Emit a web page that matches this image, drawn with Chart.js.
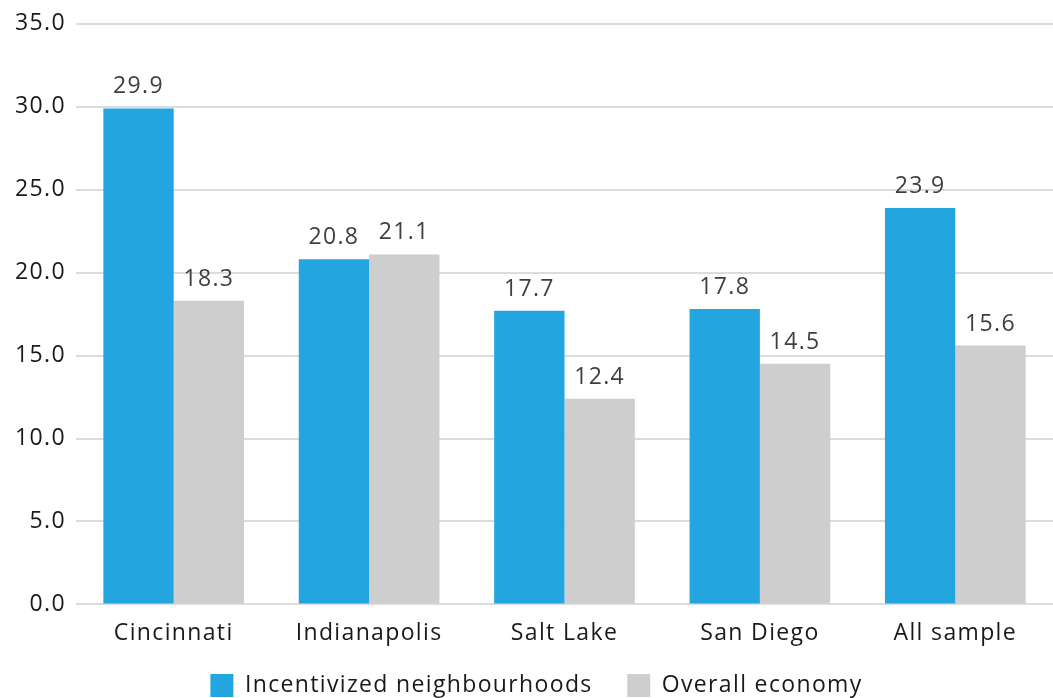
<!DOCTYPE html>
<html>
<head>
<meta charset="utf-8">
<script src="https://cdn.jsdelivr.net/npm/chart.js"></script>
<style>
  html, body { margin: 0; padding: 0; background: #fff; }
  #wrap { width: 1053px; height: 698px; }
</style>
</head>
<body>
<div id="wrap"><canvas id="chart"></canvas></div>
<script>
const categories = ["Cincinnati", "Indianapolis", "Salt Lake", "San Diego", "All sample"];
const incentivized = [29.9, 20.8, 17.7, 17.8, 23.9];
const overall = [18.3, 21.1, 12.4, 14.5, 15.6];
const seriesNames = ["Incentivized neighbourhoods", "Overall economy"];

const FONT = "'Open Sans', sans-serif";
const SIZE = 23;
const SPACING = "1.35px";

// canvas state is reset on resize, so reapply the letter spacing before measuring and drawing
const spacing = {
  id: "spacing",
  beforeUpdate(chart) { chart.ctx.letterSpacing = SPACING; },
  beforeDraw(chart) { chart.ctx.letterSpacing = SPACING; },
  // nudge the legend a bit to the right of centre
  afterLayout(chart) {
    if (chart.legend) { chart.legend.left += 7; chart.legend.right += 7; }
  }
};

// writes each bar's value just above it
const valueLabels = {
  id: "valueLabels",
  afterDatasetsDraw(chart) {
    const ctx = chart.ctx;
    ctx.save();
    ctx.font = SIZE + "px " + FONT;
    ctx.fillStyle = "#3f3f3f";
    ctx.textAlign = "center";
    ctx.textBaseline = "bottom";
    chart.data.datasets.forEach((ds, i) => {
      chart.getDatasetMeta(i).data.forEach((bar, j) => {
        ctx.fillText(ds.data[j].toFixed(1), bar.x, bar.y - 10);
      });
    });
    ctx.restore();
  }
};

const defaultLabels = Chart.defaults.plugins.legend.labels.generateLabels;

new Chart(document.getElementById("chart"), {
  type: "bar",
  data: {
    labels: categories,
    datasets: [
      { label: seriesNames[0], data: incentivized, backgroundColor: "#23a6df" },
      { label: seriesNames[1], data: overall, backgroundColor: "#cecece" }
    ]
  },
  options: {
    responsive: true,
    maintainAspectRatio: false,
    animation: false,
    layout: { padding: { top: 16, right: 0, left: 6, bottom: -9 } },
    datasets: { bar: { barPercentage: 1.0, categoryPercentage: 0.72 } },
    plugins: {
      tooltip: { enabled: false },
      legend: {
        position: "bottom",
        labels: {
          font: { family: FONT, size: SIZE },
          color: "#1a1a1a",
          boxWidth: 23,
          boxHeight: 23,
          padding: 20,
          // a little extra room after every entry but the last
          generateLabels(chart) {
            const items = defaultLabels(chart);
            items.forEach((it, i) => { if (i < items.length - 1) it.text += "  "; });
            return items;
          }
        }
      }
    },
    scales: {
      x: {
        grid: { display: false },
        border: { display: false },
        ticks: { font: { family: FONT, size: SIZE }, color: "#1a1a1a", padding: 7 }
      },
      y: {
        min: 0,
        max: 35,
        afterFit(scale) { scale.width = 70; },
        ticks: {
          stepSize: 5,
          font: { family: FONT, size: SIZE },
          color: "#1a1a1a",
          padding: 10,
          callback: v => v.toFixed(1)
        },
        grid: { color: "#dcdcdc", lineWidth: 2, drawTicks: false },
        border: { display: false }
      }
    }
  },
  plugins: [spacing, valueLabels]
});
</script>
</body>
</html>
